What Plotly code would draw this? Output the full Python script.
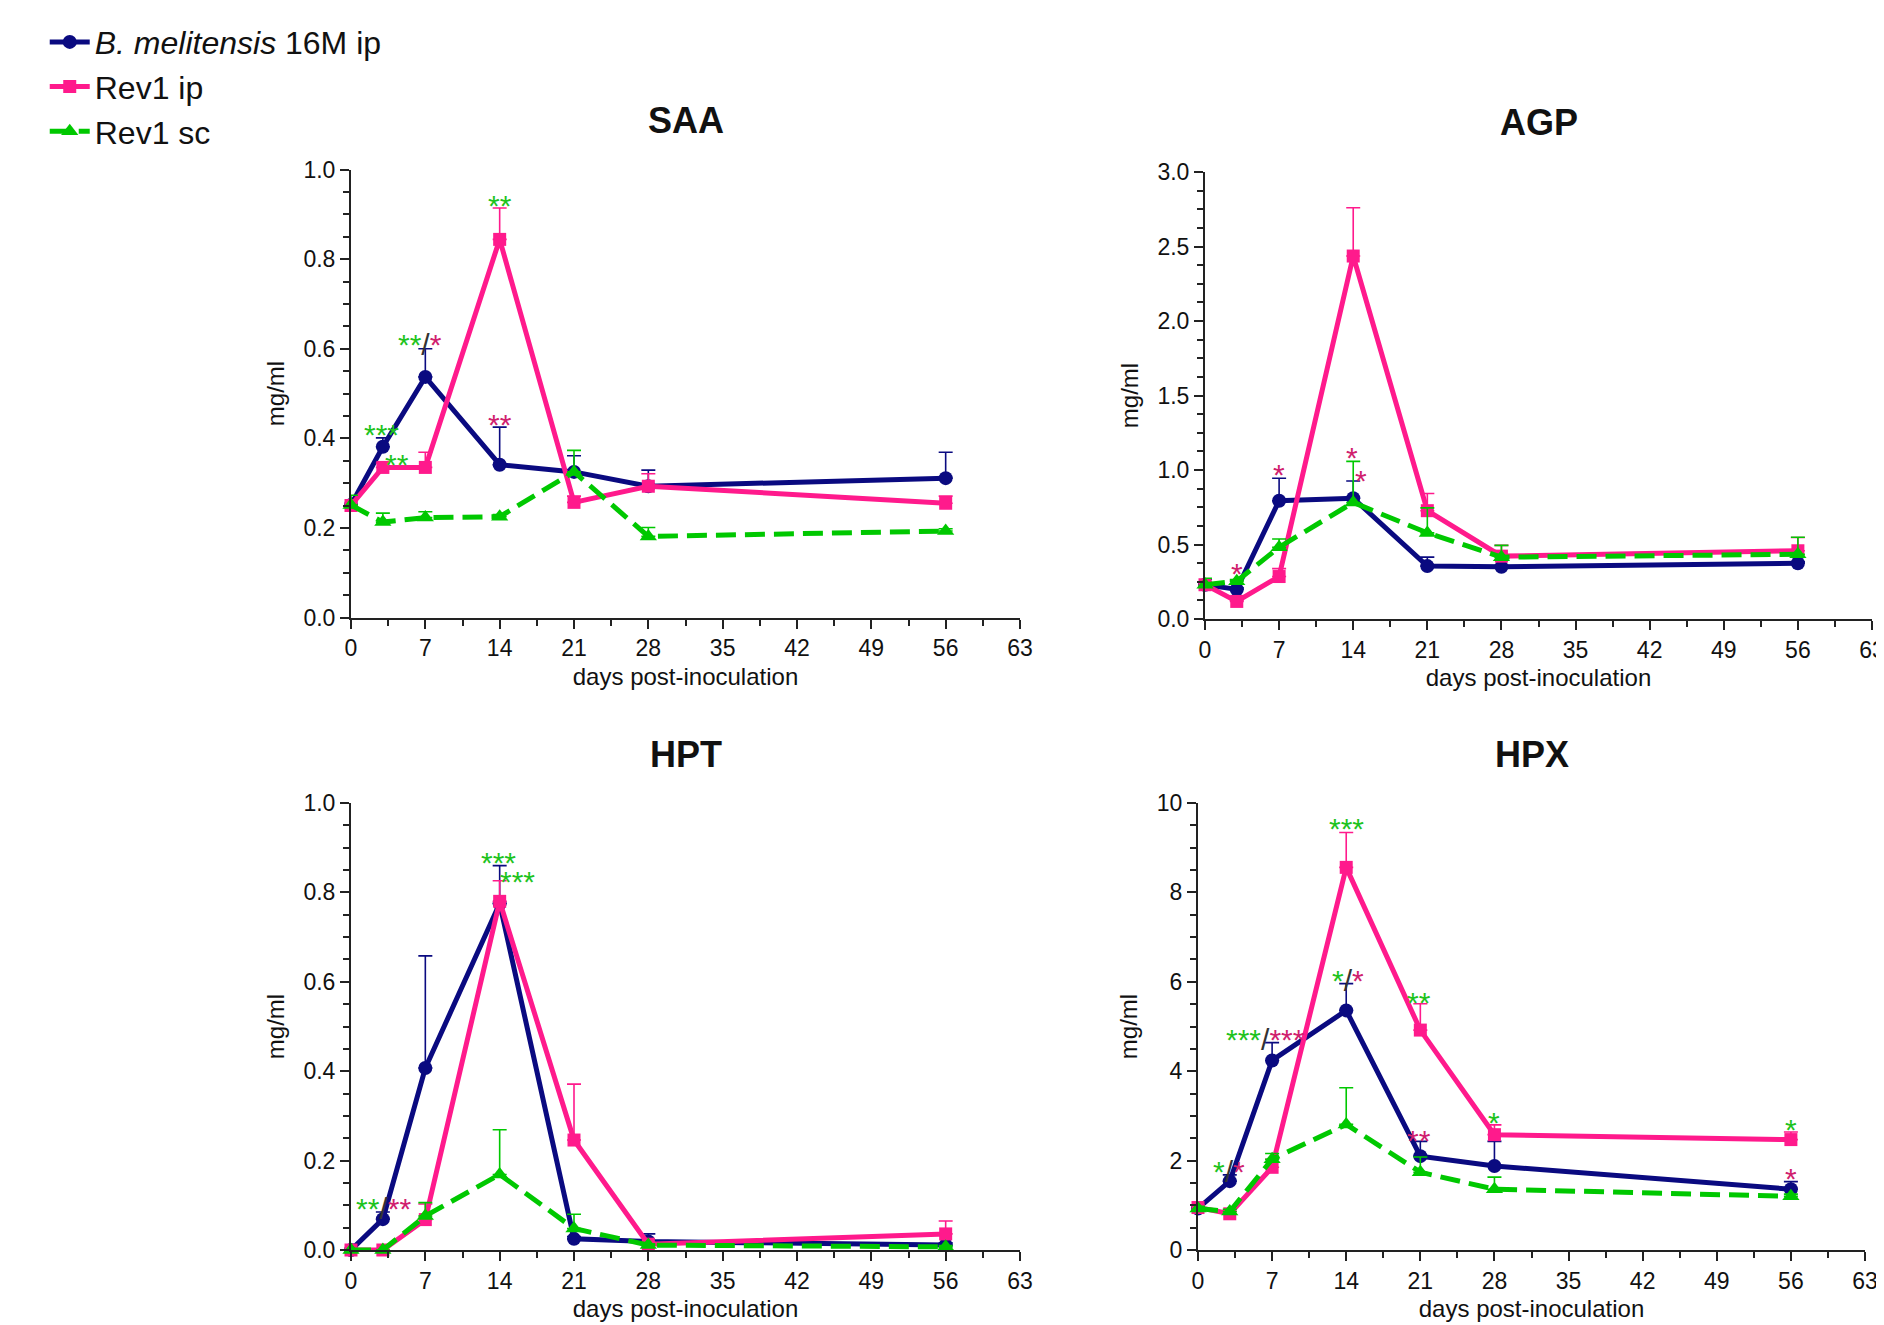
import plotly.graph_objects as go

# ---------------- data ----------------
days = [0, 3, 7, 14, 21, 28, 56]

saa_bm = [0.251, 0.381, 0.537, 0.341, 0.325, 0.293, 0.311]
saa_bm_err = [0.015, 0.020, 0.063, 0.084, 0.036, 0.036, 0.058]
saa_ip = [0.250, 0.335, 0.335, 0.844, 0.257, 0.293, 0.255]
saa_ip_err = [0.010, 0.010, 0.034, 0.070, 0.014, 0.028, 0.016]
saa_sc = [0.251, 0.213, 0.223, 0.225, 0.325, 0.181, 0.193]
saa_sc_err = [0.022, 0.020, 0.013, 0.005, 0.048, 0.020, 0.005]

agp_bm = [0.23, 0.199, 0.794, 0.811, 0.355, 0.350, 0.374]
agp_bm_err = [0.036, 0.010, 0.151, 0.115, 0.060, 0.010, 0.010]
agp_ip = [0.23, 0.118, 0.285, 2.436, 0.727, 0.422, 0.458]
agp_ip_err = [0.020, 0.010, 0.053, 0.324, 0.115, 0.072, 0.089]
agp_sc = [0.23, 0.254, 0.482, 0.782, 0.578, 0.415, 0.434]
agp_sc_err = [0.043, 0.010, 0.055, 0.276, 0.168, 0.079, 0.115]

hpt_bm = [0.0, 0.069, 0.407, 0.775, 0.025, 0.019, 0.011]
hpt_bm_err = [0.0, 0.016, 0.251, 0.085, 0.005, 0.017, 0.005]
hpt_ip = [0.0, 0.0, 0.068, 0.780, 0.246, 0.013, 0.036]
hpt_ip_err = [0.0, 0.0, 0.035, 0.046, 0.125, 0.005, 0.029]
hpt_sc = [0.0, 0.0, 0.076, 0.169, 0.048, 0.011, 0.007]
hpt_sc_err = [0.0, 0.0, 0.030, 0.100, 0.032, 0.003, 0.003]

hpx_bm = [0.93, 1.54, 4.24, 5.36, 2.10, 1.88, 1.36]
hpx_bm_err = [0.05, 0.14, 0.40, 0.60, 0.33, 0.55, 0.17]
hpx_ip = [0.95, 0.81, 1.85, 8.56, 4.92, 2.58, 2.47]
hpx_ip_err = [0.05, 0.05, 0.18, 0.78, 0.59, 0.22, 0.17]
hpx_sc = [0.93, 0.86, 2.03, 2.81, 1.74, 1.36, 1.20]
hpx_sc_err = [0.05, 0.05, 0.13, 0.82, 0.34, 0.27, 0.05]

panel_titles = ["SAA", "AGP", "HPT", "HPX"]
series_names = ["<i>B. melitensis</i> 16M ip", "Rev1 ip", "Rev1 sc"]
x_ticks = [0, 7, 14, 21, 28, 35, 42, 49, 56, 63]

# significance labels: (day, value, text-code) ; G = vs Rev1 sc (green), P = vs Rev1 ip (pink)
saa_sig_x = [2.85, 4.3, 6.5, 14.0, 14.05]
saa_sig_y = [0.425, 0.358, 0.624, 0.936, 0.447]
saa_sig_t = ["G***", "G**", "G**|P*", "G**", "P**"]

agp_sig_x = [3.0, 7.0, 13.9, 14.7]
agp_sig_y = [0.35, 1.014, 1.13, 0.974]
agp_sig_t = ["P*", "P*", "P*", "P*"]

hpt_sig_x = [3.05, 13.9, 15.7]
hpt_sig_y = [0.108, 0.883, 0.841]
hpt_sig_t = ["G**|P**", "G***", "G***"]

hpx_sig_x = [2.93, 6.4, 14.0, 14.2, 20.9, 20.9, 28.0, 56.0, 56.0]
hpx_sig_y = [1.91, 4.87, 9.58, 6.19, 5.70, 2.61, 3.01, 2.86, 1.76]
hpx_sig_t = ["G*|P*", "G***|P***", "G***", "G*|P*", "G**", "P**", "G*", "G*", "P*"]

# ---------------- style ----------------
NAVY = "#0A0A80"
PINK = "#FF1A8C"
GREEN = "#00C800"
AST_GREEN = "#1EC31E"
AST_PINK = "#D0206E"
FONT = "Liberation Sans, Arial, sans-serif"
W, H = 1884, 1325
OFF = 8  # page body margin

# panel pixel boxes (left, right, top, bottom) in screen pixels
boxes = [(351, 1020, 169.5, 617.5), (1205, 1872, 172, 619),
         (351, 1020, 803, 1250), (1198, 1865, 803, 1250)]
y_ranges = [(0, 1.0, 0.2, 0.05, ".1f"), (0, 3.0, 0.5, 0.125, ".1f"),
            (0, 1.0, 0.2, 0.05, ".1f"), (0, 10, 2, 0.5, "d")]

data = [
    [(saa_bm, saa_bm_err), (saa_ip, saa_ip_err), (saa_sc, saa_sc_err)],
    [(agp_bm, agp_bm_err), (agp_ip, agp_ip_err), (agp_sc, agp_sc_err)],
    [(hpt_bm, hpt_bm_err), (hpt_ip, hpt_ip_err), (hpt_sc, hpt_sc_err)],
    [(hpx_bm, hpx_bm_err), (hpx_ip, hpx_ip_err), (hpx_sc, hpx_sc_err)],
]
sigs = [(saa_sig_x, saa_sig_y, saa_sig_t), (agp_sig_x, agp_sig_y, agp_sig_t),
        (hpt_sig_x, hpt_sig_y, hpt_sig_t), (hpx_sig_x, hpx_sig_y, hpx_sig_t)]

styles = [
    dict(color=NAVY, symbol="circle", size=14, dash="solid"),
    dict(color=PINK, symbol="square", size=13, dash="solid"),
    dict(color=GREEN, symbol="triangle-up", size=15, dash="20px,9px"),
]


def sig_text(code):
    parts = []
    for i, seg in enumerate(code.split("|")):
        if i > 0:
            parts.append('<span style="color:#333333">/</span>')
        col = AST_GREEN if seg[0] == "G" else AST_PINK
        parts.append('<span style="color:%s">%s</span>' % (col, seg[1:]))
    return "".join(parts)


fig = go.Figure()
layout = dict(
    width=W, height=H, autosize=False,
    margin=dict(l=0, r=0, t=0, b=0),
    paper_bgcolor="white", plot_bgcolor="white",
    font=dict(family=FONT, color="#111111"),
    showlegend=True,
    legend=dict(x=0.0195, y=0.995, xanchor="left", yanchor="top",
                font=dict(size=32, family=FONT, color="#111111"),
                bgcolor="rgba(0,0,0,0)", tracegroupgap=0, itemwidth=40),
)
annotations = []

for p in range(4):
    l, r, t, b = [v - OFF for v in boxes[p]]
    xa = "xaxis" if p == 0 else "xaxis%d" % (p + 1)
    ya = "yaxis" if p == 0 else "yaxis%d" % (p + 1)
    xr = "x" if p == 0 else "x%d" % (p + 1)
    yr = "y" if p == 0 else "y%d" % (p + 1)
    y0, y1, dt, mdt, fmt = y_ranges[p]
    axis_common = dict(showline=True, linecolor="#222222", linewidth=2,
                       ticks="outside", ticklen=9, tickwidth=2, tickcolor="#222222",
                       showgrid=False, zeroline=False, automargin=False,
                       tickfont=dict(size=23, family=FONT, color="#111111"))
    layout[xa] = dict(domain=[l / W, r / W], anchor=yr, range=[0, 63],
                      tickmode="array", tickvals=x_ticks,
                      minor=dict(dtick=3.5, tick0=0, ticks="outside", ticklen=6,
                                 tickwidth=2, tickcolor="#222222", showgrid=False),
                      title=dict(text="days post-inoculation", standoff=8,
                                 font=dict(size=24, family=FONT, color="#111111")),
                      **axis_common)
    layout[ya] = dict(domain=[1 - b / H, 1 - t / H], anchor=xr, range=[y0, y1],
                      dtick=dt, tick0=0, tickformat=fmt,
                      minor=dict(dtick=mdt, tick0=0, ticks="outside", ticklen=6,
                                 tickwidth=2, tickcolor="#222222", showgrid=False),
                      title=dict(text="mg/ml", standoff=12,
                                 font=dict(size=24, family=FONT, color="#111111")),
                      **axis_common)
    for s in range(3):
        vals, err = data[p][s]
        st = styles[s]
        fig.add_trace(go.Scatter(
            x=days, y=vals, xaxis=xr, yaxis=yr, mode="lines+markers",
            name=series_names[s], legendgroup=series_names[s], showlegend=(p == 0),
            line=dict(color=st["color"], width=5, dash=st["dash"]),
            marker=dict(color=st["color"], symbol=st["symbol"], size=st["size"]),
            error_y=dict(type="data", symmetric=False, array=err,
                         arrayminus=[0] * len(err), color=st["color"],
                         thickness=1.6, width=7),
            cliponaxis=False,
        ))
    annotations.append(dict(text="<b>%s</b>" % panel_titles[p], xref="%s domain" % xr,
                            x=0.5, yref="paper", y=1 - (t - 49) / H, showarrow=False,
                            xanchor="center", yanchor="middle",
                            font=dict(size=36, family=FONT, color="#111111")))
    sx, sy, stt = sigs[p]
    for xv, yv, code in zip(sx, sy, stt):
        annotations.append(dict(text=sig_text(code), x=xv, y=yv, xref=xr, yref=yr,
                                showarrow=False, xanchor="center", yanchor="middle",
                                yshift=-7, font=dict(size=30, family=FONT)))

layout["annotations"] = annotations
fig.update_layout(**layout)
fig.write_html("out.html")
